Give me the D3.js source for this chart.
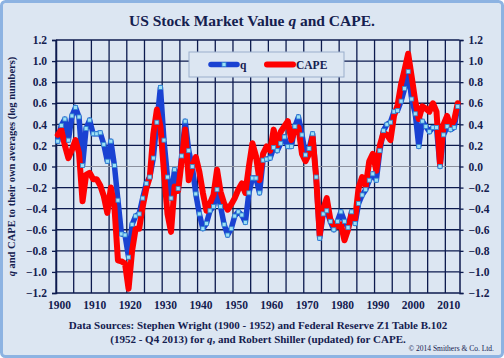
<!DOCTYPE html>
<html><head><meta charset="utf-8">
<script src="https://cdn.jsdelivr.net/npm/d3@7"></script>
<style>
html,body{margin:0;padding:0;background:#fff;}
svg{display:block;}
</style></head>
<body>
<script>
const years = d3.range(1900, 2014);
const qValues = [
 0.24,0.39,0.45,0.25,0.48,0.56,0.47,0.01,0.36,0.44,
 0.31,0.31,0.32,0.21,0.05,0.24,0.01,-0.32,-0.64,-0.65,
 -0.86,-0.55,-0.47,-0.45,-0.30,-0.16,-0.10,0.08,0.42,0.75,
 0.25,-0.10,-0.30,-0.03,-0.21,0.10,0.43,0.15,0.00,-0.26,
 -0.45,-0.59,-0.54,-0.42,-0.38,-0.22,-0.38,-0.55,-0.65,-0.59,
 -0.47,-0.43,-0.46,-0.53,-0.25,-0.11,-0.11,-0.25,0.06,0.07,
 0.08,0.18,0.15,0.22,0.28,0.19,0.19,0.38,0.47,0.30,
 0.11,0.17,0.31,-0.10,-0.68,-0.45,-0.42,-0.52,-0.60,-0.52,
 -0.43,-0.52,-0.58,-0.43,-0.54,-0.35,-0.27,-0.22,-0.13,-0.07,
 -0.13,0.15,0.34,0.40,0.42,0.52,0.53,0.62,0.74,0.90,
 0.64,0.50,0.19,0.43,0.38,0.33,0.37,0.37,0.00,0.30,
 0.38,0.35,0.37,0.57
];
const capeValues = [
 0.30,0.35,0.20,0.08,0.16,0.25,0.13,-0.33,-0.08,-0.06,
 -0.12,-0.12,-0.18,-0.28,-0.44,-0.20,-0.38,-0.89,-0.90,-0.92,
 -1.16,-0.80,-0.59,-0.59,-0.38,-0.21,-0.10,0.31,0.54,0.38,
 -0.05,-0.45,-0.62,-0.19,-0.23,0.05,0.35,-0.13,0.00,0.09,
 -0.05,-0.25,-0.42,-0.35,-0.27,-0.03,-0.24,-0.35,-0.41,-0.36,
 -0.30,-0.22,-0.16,-0.25,0.00,0.22,0.10,-0.13,0.12,0.19,
 0.15,0.35,0.20,0.33,0.38,0.43,0.25,0.35,0.37,0.12,
 0.05,0.12,0.28,-0.10,-0.65,-0.40,-0.30,-0.50,-0.56,-0.57,
 -0.55,-0.70,-0.60,-0.45,-0.50,-0.20,-0.10,-0.19,0.05,0.12,
 -0.04,0.20,0.32,0.30,0.25,0.48,0.58,0.78,0.92,1.07,
 0.85,0.62,0.45,0.57,0.55,0.52,0.60,0.52,0.02,0.40,
 0.48,0.38,0.44,0.60
];
const xTickLabels = [1900,1910,1920,1930,1940,1950,1960,1970,1980,1990,2000,2010];
const yTickValues = [-1.2,-1.0,-0.8,-0.6,-0.4,-0.2,0.0,0.2,0.4,0.6,0.8,1.0,1.2];

const W = 504, H = 358;
const navy = "#0c1a4e";
const txt = "#14204f";
const bg = "#dce6f2";
const serif = "'Liberation Serif','Times New Roman',serif";

const svg = d3.select("body").append("svg").attr("width", W).attr("height", H);
svg.append("rect").attr("x",1.5).attr("y",1.5).attr("width",W-3).attr("height",H-3)
  .attr("rx",4).attr("fill",bg).attr("stroke","#8db3e2").attr("stroke-width",3);

const pL = 56, pR = 459.5, pT = 40, pB = 293;
const x = d3.scaleLinear().domain([1899.5, 2013.5]).range([pL, pR]);
const y = d3.scaleLinear().domain([-1.2, 1.2]).range([pB, pT]);

// title
const title = svg.append("text").attr("x",252).attr("y",26).attr("text-anchor","middle")
  .attr("font-family",serif).attr("font-weight","bold").attr("font-size",15.5).attr("fill",txt);
title.append("tspan").text("US Stock Market Value ");
title.append("tspan").attr("font-style","italic").text("q");
title.append("tspan").text(" and CAPE.");

// gridlines vertical (every 5 categories)
const g = svg.append("g");
const vGrid = d3.range(1899.5, 2013.5, 5);
g.selectAll("line.v").data(vGrid).join("line")
  .attr("x1",d=>x(d)).attr("x2",d=>x(d)).attr("y1",pT).attr("y2",pB)
  .attr("stroke",navy).attr("stroke-width",1.3);
// horizontal gridlines
g.selectAll("line.h").data(yTickValues).join("line")
  .attr("x1",pL).attr("x2",pR).attr("y1",d=>y(d)).attr("y2",d=>y(d))
  .attr("stroke",d=>d===0?"#8a8f9c":navy).attr("stroke-width",d=>d===0?1.2:1.3);

// axes
const yL = d3.axisLeft(y).tickValues(yTickValues).tickFormat(d3.format(".1f")).tickSize(4).tickPadding(5);
const yR = d3.axisRight(y).tickValues(yTickValues).tickFormat(d3.format(".1f")).tickSize(4).tickPadding(5);
const xA = d3.axisBottom(x).tickValues(xTickLabels).tickFormat(d3.format("d")).tickSize(0).tickPadding(8);
function style(sel){
  sel.select(".domain").attr("stroke",navy).attr("stroke-width",1.5);
  sel.selectAll(".tick line").attr("stroke",navy).attr("stroke-width",1.3);
  sel.selectAll("text").attr("font-family",serif).attr("font-weight","bold").attr("font-size",11.5).attr("fill",txt);
}
svg.append("g").attr("transform",`translate(${pL},0)`).call(yL).call(style);
svg.append("g").attr("transform",`translate(${pR},0)`).call(yR).call(style);
const xg = svg.append("g").attr("transform",`translate(0,${pB})`).call(xA).call(style);
xg.select(".domain").remove();
xg.selectAll("text").attr("dx","0.1em");

// y axis title
const yt = svg.append("text").attr("transform",`translate(15,${(pT+pB)/2}) rotate(-90)`)
  .attr("text-anchor","middle").attr("font-family",serif).attr("font-weight","bold")
  .attr("font-size",10.5).attr("fill",txt);
yt.append("tspan").attr("font-style","italic").text("q");
yt.append("tspan").text(" and CAPE to their own averages (log numbers)");

// series
const qData = years.map((yr,i)=>({yr, v:qValues[i]}));
const cData = years.map((yr,i)=>({yr, v:capeValues[i]}));
const line = d3.line().x(d=>x(d.yr)).y(d=>y(d.v));
const blue = "#1a42d2", red = "#ff0000";
svg.append("path").datum(qData).attr("d",line).attr("fill","none")
  .attr("stroke",blue).attr("stroke-width",5.5).attr("stroke-linejoin","round").attr("stroke-linecap","round");
svg.append("path").datum(cData).attr("d",line).attr("fill","none")
  .attr("stroke",red).attr("stroke-width",6).attr("stroke-linejoin","round").attr("stroke-linecap","round");
svg.selectAll("rect.m").data(qData).join("rect")
  .attr("x",d=>x(d.yr)-2).attr("y",d=>y(d.v)-2).attr("width",4).attr("height",4)
  .attr("fill","#9ee0f6").attr("stroke","#2f86cf").attr("stroke-width",0.8);

// legend
const lg = svg.append("g");
lg.append("rect").attr("x",189).attr("y",52).attr("width",155).attr("height",25)
  .attr("fill",bg).attr("stroke","#9aaecb").attr("stroke-width",1);
lg.append("line").attr("x1",211).attr("x2",237).attr("y1",64.5).attr("y2",64.5)
  .attr("stroke",blue).attr("stroke-width",5.5).attr("stroke-linecap","round");
lg.append("rect").attr("x",222).attr("y",62.5).attr("width",4).attr("height",4)
  .attr("fill","#9ee0f6").attr("stroke","#2f86cf").attr("stroke-width",0.8);
lg.append("text").attr("x",240).attr("y",68.5).text("q")
  .attr("font-family",serif).attr("font-weight","bold").attr("font-size",11.5).attr("fill",txt);
lg.append("line").attr("x1",267).attr("x2",293).attr("y1",64.5).attr("y2",64.5)
  .attr("stroke",red).attr("stroke-width",6).attr("stroke-linecap","round");
lg.append("text").attr("x",296).attr("y",68.5).text("CAPE")
  .attr("font-family",serif).attr("font-weight","bold").attr("font-size",11.5).attr("fill",txt);

// sources
const src = svg.append("text").attr("x",258).attr("y",329).attr("text-anchor","middle")
  .attr("font-family",serif).attr("font-weight","bold").attr("font-size",11).attr("fill",txt);
src.text("Data Sources: Stephen Wright (1900 - 1952) and Federal Reserve Z1 Table B.102");
const src2 = svg.append("text").attr("x",258).attr("y",343).attr("text-anchor","middle")
  .attr("font-family",serif).attr("font-weight","bold").attr("font-size",11).attr("fill",txt);
src2.append("tspan").text("(1952 - Q4 2013) for ");
src2.append("tspan").attr("font-style","italic").text("q");
src2.append("tspan").text(", and Robert Shiller (updated) for CAPE.");

svg.append("text").attr("x",494).attr("y",351).attr("text-anchor","end")
  .attr("font-family",serif).attr("font-size",7.5).attr("fill",txt)
  .text("© 2014 Smithers & Co. Ltd.");
</script>
</body></html>
